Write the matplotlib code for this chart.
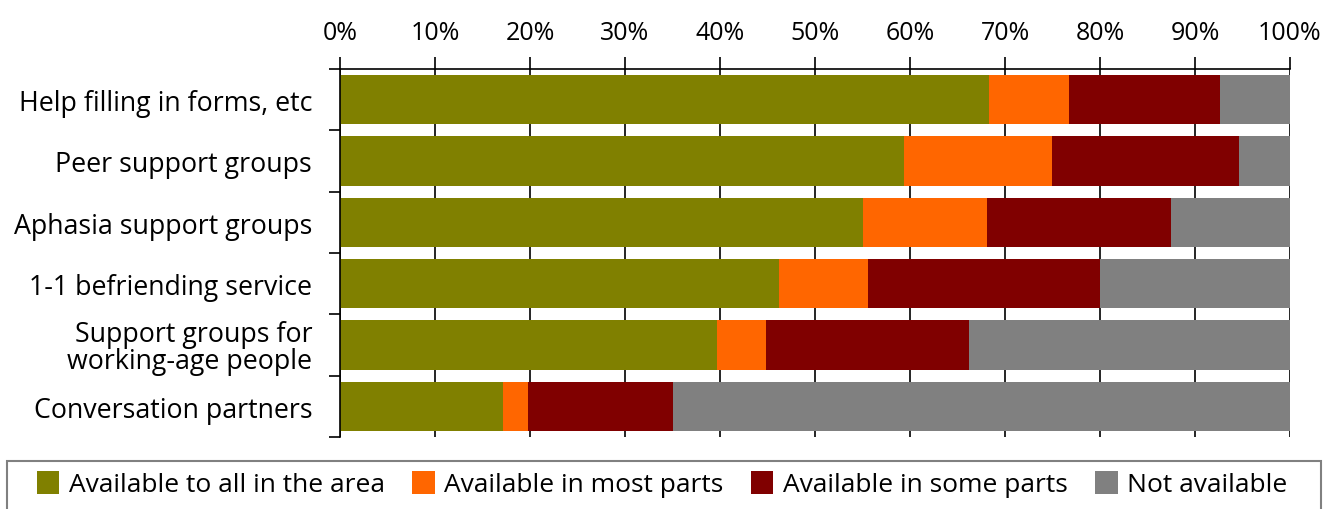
"""
Availability of communication support services, stacked horizontal bars.
"""
import numpy as np
import matplotlib
matplotlib.use('Agg')
import matplotlib.pyplot as plt
from matplotlib.patches import Patch, Rectangle

services = ['Help filling in forms, etc',
            'Peer support groups',
            'Aphasia support groups',
            '1-1 befriending service',
            'Support groups for\nworking-age people',
            'Conversation partners']

# percent of respondents, one list per availability level
all_area = [68.3, 59.4, 55.0, 46.2, 39.7, 17.2]
most_parts = [8.4, 15.5, 13.1, 9.4, 5.1, 2.6]
some_parts = [15.9, 19.7, 19.4, 24.4, 21.4, 15.2]
not_available = [7.4, 5.4, 12.5, 20.0, 33.8, 65.0]

levels = ['Available to all in the area', 'Available in most parts',
          'Available in some parts', 'Not available']
colors = ['#808000', '#ff6600', '#800000', '#808080']

plt.rc('font', family='Open Sans', size=18)

W, H = 1327, 510
fig = plt.figure(figsize=(W / 100, H / 100), dpi=100)
ax = fig.add_axes([340 / W, 72 / H, 950 / W, 368 / H])

y = np.arange(len(services))
left = np.zeros(len(services))
for vals, color in zip([all_area, most_parts, some_parts, not_available], colors):
    ax.barh(y, vals, left=left, height=0.8, color=color, zorder=2)
    left += np.array(vals)

ax.set_xlim(0, 100)
ax.set_ylim(len(services) - 0.5, -0.5)

# percent axis along the top
ax.xaxis.tick_top()
ax.set_xticks(np.arange(0, 101, 10))
ax.set_xticklabels(['{}%'.format(v) for v in range(0, 101, 10)])
ax.tick_params(axis='x', direction='out', length=9, width=1.2, pad=8, labelsize=18)
ax.grid(axis='x', color='k', linewidth=1.2, zorder=1)

# category ticks sit between the bars, labels in the middle
ax.set_yticks(np.arange(-0.5, len(services), 1.0))
ax.set_yticklabels([])
ax.set_yticks(y, minor=True)
ax.set_yticklabels(services, minor=True, fontsize=19.3, linespacing=0.95)
ax.tick_params(axis='y', which='major', length=8, width=1.2)
ax.tick_params(axis='y', which='minor', length=0, pad=20)

for side in ['right', 'bottom']:
    ax.spines[side].set_visible(False)
for side in ['left', 'top']:
    ax.spines[side].set_linewidth(1.2)

# legend box runs off the bottom edge
fig.patches.append(Rectangle((7 / W, -12 / H), 1314 / W, 60 / H, transform=fig.transFigure,
                             facecolor='none', edgecolor='#808080', linewidth=1.5))
handles = [Patch(facecolor=c, label=l) for c, l in zip(colors, levels)]
fig.legend(handles=handles, loc='center left', bbox_to_anchor=(37 / W, 25 / H),
           ncol=4, frameon=False, fontsize=19, handlelength=0.85, handleheight=1.0,
           handletextpad=0.35, columnspacing=1.05, borderpad=0, borderaxespad=0)

plt.savefig('out.png', dpi=100)
